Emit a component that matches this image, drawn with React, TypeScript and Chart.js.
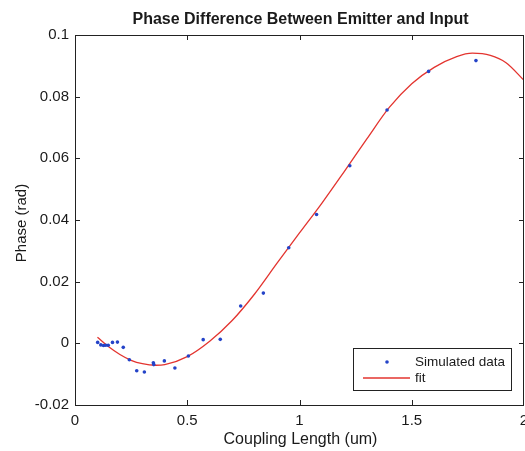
import React, { useEffect, useRef } from "react";
import { Chart, registerables } from "chart.js";
Chart.register(...registerables);

const titleText = "Phase Difference Between Emitter and Input";
const xTitle = "Coupling Length (um)";
const yTitle = "Phase (rad)";

const simX = [0.101, 0.115, 0.127, 0.137, 0.148, 0.167, 0.189, 0.215, 0.242, 0.275, 0.309, 0.349, 0.351, 0.398, 0.445, 0.505, 0.571, 0.647, 0.738, 0.839, 0.952, 1.076, 1.224, 1.39, 1.575, 1.786];
const simY = [0.0003, -0.0005, -0.0007, -0.0006, -0.0006, 0.0003, 0.0004, -0.0013, -0.0053, -0.0089, -0.0093, -0.0063, -0.0069, -0.0057, -0.008, -0.0041, 0.0012, 0.0013, 0.0121, 0.0163, 0.031, 0.0418, 0.0576, 0.0757, 0.0882, 0.0917];

const fitX = [0.1, 0.15, 0.2, 0.25, 0.3, 0.36, 0.4, 0.5, 0.6, 0.7, 0.8, 0.9, 1.0, 1.1, 1.2, 1.3, 1.4, 1.5, 1.6, 1.7, 1.77, 1.85, 1.92, 2.0];
const fitY = [0.002, -0.0011, -0.0036, -0.0055, -0.0066, -0.0071, -0.0069, -0.0043, 0.0007, 0.0074, 0.0160, 0.0260, 0.0358, 0.0455, 0.0558, 0.0663, 0.0765, 0.0842, 0.0895, 0.0930, 0.0941, 0.0934, 0.0910, 0.0853];

const xTicks = [0, 0.5, 1, 1.5, 2];
const xTickLabels = ["0", "0.5", "1", "1.5", "2"];
const yTicks = [-0.02, 0, 0.02, 0.04, 0.06, 0.08, 0.1];
const yTickLabels = ["-0.02", "0", "0.02", "0.04", "0.06", "0.08", "0.1"];

const FONT = "'Liberation Sans', Arial, Helvetica, sans-serif";

export default function App() {
  const ref = useRef<HTMLCanvasElement | null>(null);
  useEffect(() => {
    if (!ref.current) return;
    const overlay = {
      id: "matlabOverlay",
      afterDraw(chart: any) {
        const ctx = chart.ctx as CanvasRenderingContext2D;
        const a = chart.chartArea;
        const xs = chart.scales.x;
        const ys = chart.scales.y;
        ctx.save();
        ctx.strokeStyle = "#222";
        ctx.lineWidth = 1;
        ctx.strokeRect(Math.round(a.left) + 0.5, Math.round(a.top) + 0.5, Math.round(a.right - a.left) - 1, Math.round(a.bottom - a.top));
        const tl = 5;
        ctx.beginPath();
        xTicks.forEach((v) => {
          const px = Math.round(xs.getPixelForValue(v)) + 0.5;
          if (v === xTicks[0] || v === xTicks[xTicks.length - 1]) return;
          ctx.moveTo(px, a.bottom);
          ctx.lineTo(px, a.bottom - tl);
          ctx.moveTo(px, a.top);
          ctx.lineTo(px, a.top + tl);
        });
        yTicks.forEach((v) => {
          const py = Math.round(ys.getPixelForValue(v)) + 0.5;
          if (v === yTicks[0] || v === yTicks[yTicks.length - 1]) return;
          ctx.moveTo(a.left, py);
          ctx.lineTo(a.left + tl, py);
          ctx.moveTo(a.right, py);
          ctx.lineTo(a.right - tl, py);
        });
        ctx.stroke();

        ctx.fillStyle = "#1a1a1a";
        ctx.textAlign = "center";
        ctx.textBaseline = "middle";
        ctx.font = `bold 16px ${FONT}`;
        ctx.fillText(titleText, (a.left + a.right) / 2 + 1, 20);
        ctx.font = `16px ${FONT}`;
        ctx.fillText(xTitle, (a.left + a.right) / 2 + 1, 440);
        ctx.save();
        ctx.translate(22, (a.top + a.bottom) / 2 + 3);
        ctx.rotate(-Math.PI / 2);
        ctx.font = `15px ${FONT}`;
        ctx.fillText(yTitle, 0, 0);
        ctx.restore();

        // legend
        const lx = 353, ly = 348, lw = 158, lh = 42;
        ctx.fillStyle = "#fff";
        ctx.fillRect(lx, ly, lw, lh);
        ctx.strokeStyle = "#222";
        ctx.strokeRect(lx + 0.5, ly + 0.5, lw, lh);
        const ds = chart.data.datasets;
        ctx.fillStyle = ds[0].backgroundColor;
        ctx.beginPath();
        ctx.arc(387, 362, 1.8, 0, Math.PI * 2);
        ctx.fill();
        ctx.strokeStyle = ds[1].borderColor;
        ctx.lineWidth = 1.3;
        ctx.beginPath();
        ctx.moveTo(363, 378);
        ctx.lineTo(410, 378);
        ctx.stroke();
        ctx.fillStyle = "#1a1a1a";
        ctx.textAlign = "left";
        ctx.font = `13.5px ${FONT}`;
        ctx.fillText(ds[0].label, 415, 362);
        ctx.fillText(ds[1].label, 415, 378);
        ctx.restore();
      },
    };

    const chart = new Chart(ref.current, {
      type: "scatter",
      data: {
        datasets: [
          {
            label: "Simulated data",
            data: simX.map((x, i) => ({ x, y: simY[i] })),
            backgroundColor: "#2443c8",
            borderWidth: 0,
            pointRadius: 1.8,
            showLine: false,
          },
          {
            label: "fit",
            data: fitX.map((x, i) => ({ x, y: fitY[i] })),
            borderColor: "#e3342f",
            backgroundColor: "#e3342f",
            borderWidth: 1.3,
            pointRadius: 0,
            showLine: true,
            cubicInterpolationMode: "monotone",
          },
        ],
      },
      options: {
        animation: false,
        responsive: false,
        devicePixelRatio: 1,
        layout: { padding: { top: 35, right: 36, left: 0, bottom: 0 } },
        plugins: { legend: { display: false }, title: { display: false }, tooltip: { enabled: false } },
        scales: {
          x: {
            type: "linear",
            min: 0,
            max: 2,
            grid: { display: false, drawTicks: false },
            border: { display: false },
            afterBuildTicks: (s: any) => { s.ticks = xTicks.map((v) => ({ value: v })); },
            afterFit: (s: any) => { s.height = 46; },
            ticks: {
              padding: 7,
              color: "#1a1a1a",
              font: { family: FONT, size: 15 },
              maxRotation: 0,
              autoSkip: false,
              callback: (v: any) => { const i = xTicks.indexOf(v); return i >= 0 ? xTickLabels[i] : ""; },
            },
          },
          y: {
            type: "linear",
            min: -0.02,
            max: 0.1,
            grid: { display: false, drawTicks: false },
            border: { display: false },
            afterBuildTicks: (s: any) => { s.ticks = yTicks.map((v) => ({ value: v })); },
            afterFit: (s: any) => { s.width = 75; },
            ticks: {
              padding: 6,
              color: "#1a1a1a",
              font: { family: FONT, size: 15 },
              autoSkip: false,
              callback: (v: any) => { const i = yTicks.indexOf(v); return i >= 0 ? yTickLabels[i] : ""; },
            },
          },
        },
      },
      plugins: [overlay],
    });
    return () => chart.destroy();
  }, []);
  return (
    <div style={{ position: "absolute", left: 0, top: 0, width: 525, height: 451, overflow: "hidden", background: "#fff" }}>
      <canvas ref={ref} width={560} height={451} style={{ display: "block" }} />
    </div>
  );
}
